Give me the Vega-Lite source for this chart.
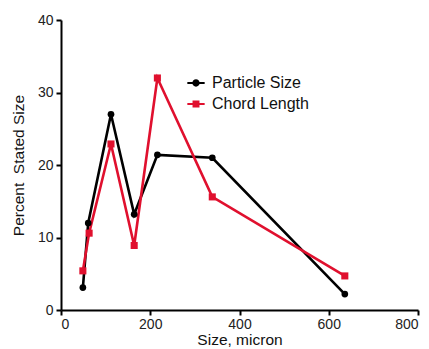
{
  "$schema": "https://vega.github.io/schema/vega-lite/v6.json",
  "width": 357,
  "height": 290,
  "autosize": {"type": "none"},
  "padding": {"left": 61, "top": 20, "right": 11, "bottom": 39},
  "background": "white",
  "config": {
    "font": "Liberation Sans",
    "view": {"stroke": null},
    "axis": {
      "grid": false,
      "domainColor": "black",
      "domainWidth": 2,
      "tickColor": "black",
      "tickWidth": 2,
      "tickSize": 5,
      "labelFont": "Liberation Sans",
      "labelFontSize": 14,
      "labelColor": "#222",
      "titleFont": "Liberation Sans",
      "titleFontSize": 15.5,
      "titleFontWeight": "normal",
      "titleColor": "#111"
    },
    "legend": {
      "title": null,
      "orient": "none",
      "legendX": 126,
      "legendY": 54,
      "symbolSize": 300,
      "symbolOpacity": 1,
      "symbolStrokeWidth": 0,
      "labelFont": "Liberation Sans",
      "labelFontSize": 16,
      "labelColor": "#111",
      "labelOffset": 7,
      "rowPadding": 4
    }
  },
  "data": {
    "values": [
      {"size": 49, "pct": 3.1, "series": "Particle Size"},
      {"size": 61, "pct": 12.0, "series": "Particle Size"},
      {"size": 112, "pct": 27.0, "series": "Particle Size"},
      {"size": 164, "pct": 13.2, "series": "Particle Size"},
      {"size": 216, "pct": 21.4, "series": "Particle Size"},
      {"size": 339, "pct": 21.0, "series": "Particle Size"},
      {"size": 636, "pct": 2.2, "series": "Particle Size"},
      {"size": 49, "pct": 5.4, "series": "Chord Length"},
      {"size": 63, "pct": 10.6, "series": "Chord Length"},
      {"size": 112, "pct": 22.9, "series": "Chord Length"},
      {"size": 164, "pct": 8.9, "series": "Chord Length"},
      {"size": 216, "pct": 32.0, "series": "Chord Length"},
      {"size": 339, "pct": 15.6, "series": "Chord Length"},
      {"size": 636, "pct": 4.7, "series": "Chord Length"}
    ]
  },
  "encoding": {
    "x": {
      "field": "size", "type": "quantitative",
      "scale": {"domain": [0, 800], "nice": false},
      "axis": {"values": [0, 200, 400, 600, 800], "title": "Size, micron", "titleY": 34, "titleBaseline": "alphabetic", "labelPadding": 2}
    },
    "y": {
      "field": "pct", "type": "quantitative",
      "scale": {"domain": [0, 40], "nice": false},
      "axis": {"values": [0, 10, 20, 30, 40], "title": "Percent\u00a0 Stated Size", "titleX": -43, "titleBaseline": "middle", "labelPadding": 3}
    },
    "color": {
      "field": "series", "type": "nominal",
      "scale": {"domain": ["Particle Size", "Chord Length"], "range": ["#000000", "#e0102e"]}
    }
  },
  "layer": [
    {
      "mark": {"type": "line", "strokeWidth": 2.6}
    },
    {
      "transform": [{"filter": "datum.series == 'Particle Size'"}],
      "mark": {"type": "point", "shape": "circle", "filled": true, "size": 45, "opacity": 1}
    },
    {
      "transform": [{"filter": "datum.series == 'Chord Length'"}],
      "mark": {"type": "point", "shape": "square", "filled": true, "size": 50, "opacity": 1}
    },
    {
      "mark": {"type": "point", "filled": true, "opacity": 0},
      "encoding": {
        "shape": {
          "field": "series", "type": "nominal",
          "scale": {
            "domain": ["Particle Size", "Chord Length"],
            "range": [
              "M-1,-0.12H-0.4V0.12H-1Z M0.4,-0.12H1V0.12H0.4Z M-0.42,0A0.42,0.42 0 1,1 0.42,0A0.42,0.42 0 1,1 -0.42,0Z",
              "M-1,-0.12H-0.4V0.12H-1Z M0.4,-0.12H1V0.12H0.4Z M-0.4,-0.4H0.4V0.4H-0.4Z"
            ]
          }
        }
      }
    }
  ]
}
